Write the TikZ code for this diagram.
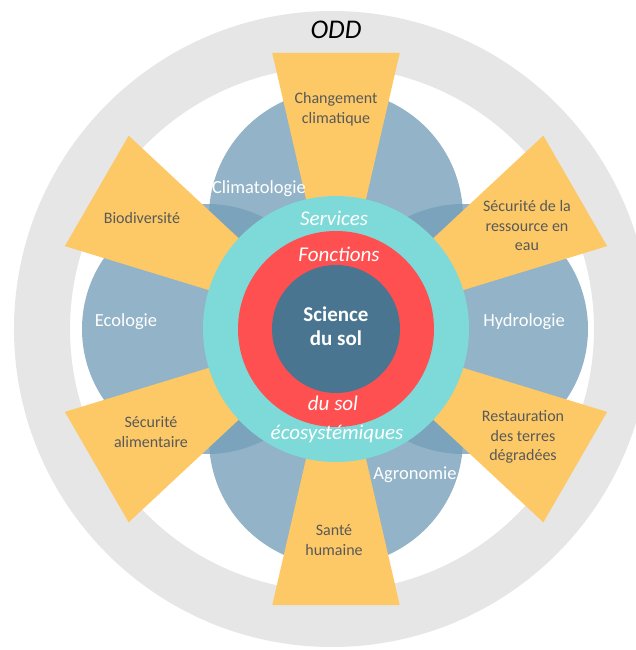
\documentclass[tikz,border=0pt]{standalone}
\usepackage{xcolor}
\usepackage{fontspec}
\setmainfont{Carlito}
\usepackage{tikz}

\definecolor{grayring}{HTML}{E6E6E6}
\definecolor{petalblue}{RGB}{117,159,185}
\definecolor{goalorange}{HTML}{FDC966}
\definecolor{goaltext}{HTML}{595959}
\definecolor{serviceteal}{HTML}{7DDAD8}
\definecolor{functionred}{HTML}{FE5050}
\definecolor{soildark}{HTML}{497590}

\begin{document}
\begin{tikzpicture}[x=1pt,y=1pt,
  petal/.style={fill=petalblue,fill opacity=0.79},
  goalwedge/.style={fill=goalorange},
  goallabel/.style={text=goaltext,align=center,font=\fontsize{16}{19.5}\selectfont},
  fieldlabel/.style={text=white,font=\fontsize{18.5}{22}\selectfont},
  ringlabel/.style={text=white,font=\fontsize{21}{25}\selectfont\itshape}]
\clip (-336,-321) rectangle (300,329);
% outer ring of the goals
\fill[grayring,even odd rule] (-4,0) circle (318) (-4,0) circle (262);
\node[font=\fontsize{27}{30}\selectfont\itshape] (odd) at (0,299) {ODD};
% four disciplines
\fill[petal] (0,112) circle (127);
\fill[petal] (0,-110) circle (127);
\fill[petal] (-129,0) circle (125);
\fill[petal] (127,0) circle (125);
% six goals
\foreach \a in {90,30,-30,-90,-150,150}
  \fill[goalwedge] (0,0) -- (\a-13:283.5) -- (\a+13:283.5) -- cycle;
% core rings
\fill[serviceteal] (0,0) circle (133);
\fill[functionred] (0,0) circle (98);
\fill[soildark] (0,0) circle (64);

\node[goallabel] (climat) at (0,220) {Changement\\climatique};
\node[goallabel] (biodiv) at (-194,111) {Biodiversité};
\node[goallabel] (eau) at (191,103) {Sécurité de la\\ressource en\\eau};
\node[goallabel] (alim) at (-185,-103) {Sécurité\\alimentaire};
\node[goallabel] (terres) at (187,-108) {Restauration\\des terres\\dégradées};
\node[goallabel] (sante) at (-2,-211) {Santé\\humaine};

\node[fieldlabel] (climato) at (-77,140) {Climatologie};
\node[fieldlabel] (ecolo) at (-210,7) {Ecologie};
\node[fieldlabel] (hydro) at (188,7) {Hydrologie};
\node[fieldlabel] (agro) at (79,-146) {Agronomie};

\node[ringlabel] (services) at (-2,111) {Services};
\node[ringlabel] (ecosys) at (1,-105) {écosystémiques};
\node[ringlabel] (fonctions) at (3,75) {Fonctions};
\node[ringlabel] (dusol) at (-3,-74) {du sol};
\node[text=white,align=center,font=\fontsize{21}{24.5}\selectfont\bfseries] (science) at (0,3) {Science\\du sol};
\end{tikzpicture}
\end{document}
